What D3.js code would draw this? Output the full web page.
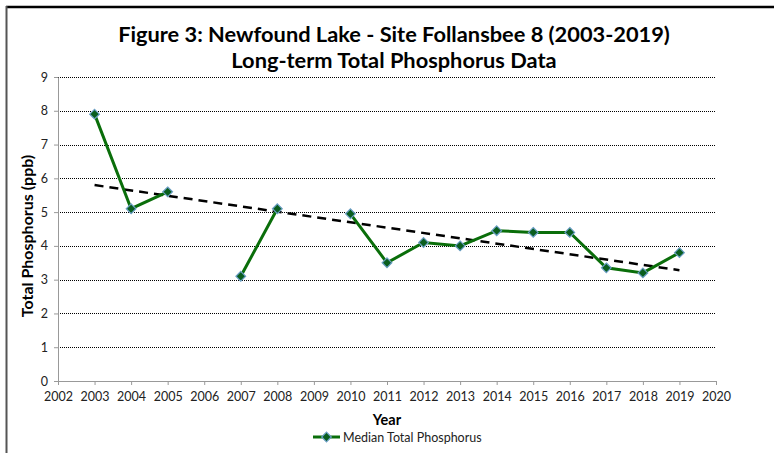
<!DOCTYPE html>
<html>
<head>
<meta charset="utf-8">
<script src="https://cdn.jsdelivr.net/npm/d3@7"></script>
<style>
  body { margin: 0; background: #fff; }
  svg text { font-family: Lato, "Open Sans", sans-serif; }
</style>
</head>
<body>
<div id="chart"></div>
<script>
// data
const YEARS = [2003, 2004, 2005, 2006, 2007, 2008, 2009, 2010, 2011, 2012, 2013, 2014, 2015, 2016, 2017, 2018, 2019];
const MEDIAN_TP = [7.9, 5.1, 5.6, null, 3.1, 5.1, null, 4.95, 3.5, 4.1, 4.0, 4.45, 4.4, 4.4, 3.35, 3.2, 3.8];
const TREND_YEARS = [2003, 2019];
const TREND_VALUES = [5.8, 3.28];
const X_TICKS = d3.range(2002, 2021);
const Y_TICKS = [0, 1, 2, 3, 4, 5, 6, 7, 8, 9];

const TITLE_LINES = ["Figure 3: Newfound Lake - Site Follansbee 8 (2003-2019)", "Long-term Total Phosphorus Data"];

const W = 774, H = 453;
const margin = {top: 77, right: 58, bottom: 72, left: 58};
const width = W - margin.left - margin.right;
const height = H - margin.top - margin.bottom;

const x = d3.scaleLinear().domain([2002, 2020]).range([0, width]);
const y = d3.scaleLinear().domain([0, 9]).range([height, 0]);

const svg = d3.select("#chart").append("svg")
    .attr("width", W).attr("height", H);

// frame edges
svg.append("line").attr("x1", 6).attr("x2", W).attr("y1", 7).attr("y2", 7)
    .style("stroke", "#000").style("stroke-width", 2.5);
svg.append("line").attr("x1", 6.5).attr("x2", 6.5).attr("y1", 6).attr("y2", H)
    .style("stroke", "#555").style("stroke-width", 2);

svg.selectAll(".title").data(TITLE_LINES).enter().append("text")
    .attr("x", 394).attr("y", (d, i) => 42 + i * 26)
    .style("text-anchor", "middle")
    .style("font-size", "21.8px").style("font-weight", "bold")
    .text(d => d);

const g = svg.append("g")
    .attr("transform", "translate(" + margin.left + "," + margin.top + ")");

// dotted grid
g.selectAll(".grid").data(Y_TICKS.filter(d => d > 0)).enter().append("line")
    .attr("x1", 0).attr("x2", width)
    .attr("y1", d => Math.round(y(d)) + 0.5).attr("y2", d => Math.round(y(d)) + 0.5)
    .style("stroke", "#000").style("stroke-width", 1)
    .style("stroke-dasharray", "1,1");

const xAxis = g.append("g")
    .attr("transform", "translate(0," + height + ")")
    .call(d3.axisBottom(x).tickValues(X_TICKS).tickFormat(d3.format("d")).tickSize(4).tickSizeOuter(0));
const yAxis = g.append("g")
    .call(d3.axisLeft(y).tickValues(Y_TICKS).tickSize(4).tickSizeOuter(0));

[xAxis, yAxis].forEach(a => {
  a.select(".domain").style("stroke", "#999");
  a.selectAll(".tick line").style("stroke", "#999");
  a.selectAll(".tick text").style("font-size", "12.5px").style("fill", "#222")
      .style("font-family", "Lato, sans-serif");
});
xAxis.selectAll(".tick text").attr("dy", "1em").attr("y", 7);
yAxis.selectAll(".tick text").attr("x", -10);

// trend line
g.append("path")
    .datum(TREND_YEARS.map((yr, i) => ({year: yr, v: TREND_VALUES[i]})))
    .attr("d", d3.line().x(d => x(d.year)).y(d => y(d.v)))
    .style("fill", "none").style("stroke", "#000")
    .style("stroke-width", 2.5).style("stroke-dasharray", "9,6");

const pts = YEARS.map((yr, i) => ({year: yr, v: MEDIAN_TP[i]}));

g.append("path")
    .datum(pts)
    .attr("d", d3.line().defined(d => d.v !== null).x(d => x(d.year)).y(d => y(d.v)))
    .style("fill", "none").style("stroke", "#0a6e0a").style("stroke-width", 3);

const diamond = d3.symbol().type(d3.symbolDiamond2).size(60);
g.selectAll(".pt").data(pts.filter(d => d.v !== null)).enter().append("path")
    .attr("d", diamond)
    .attr("transform", d => "translate(" + x(d.year) + "," + y(d.v) + ")")
    .style("fill", "#0a5e1e").style("stroke", "#6a9ec4").style("stroke-width", 1.2);

// axis titles
svg.append("text")
    .attr("transform", "translate(33,236) rotate(-90)")
    .style("text-anchor", "middle")
    .style("font-size", "16px").style("font-weight", "bold")
    .text("Total Phosphorus (ppb)");

svg.append("text")
    .attr("x", 387).attr("y", 425)
    .style("text-anchor", "middle")
    .style("font-size", "14.5px").style("font-weight", "bold")
    .text("Year");

// legend
const lg = svg.append("g").attr("transform", "translate(313,437)");
lg.append("line").attr("x1", 0).attr("x2", 27).attr("y1", 0).attr("y2", 0)
    .style("stroke", "#0a6e0a").style("stroke-width", 3);
lg.append("path").attr("d", diamond).attr("transform", "translate(13.5,0)")
    .style("fill", "#0a5e1e").style("stroke", "#6a9ec4").style("stroke-width", 1.2);
lg.append("text").attr("x", 30).attr("y", 4.5)
    .style("font-size", "12.5px").style("fill", "#222")
    .text("Median Total Phosphorus");
</script>
</body>
</html>
